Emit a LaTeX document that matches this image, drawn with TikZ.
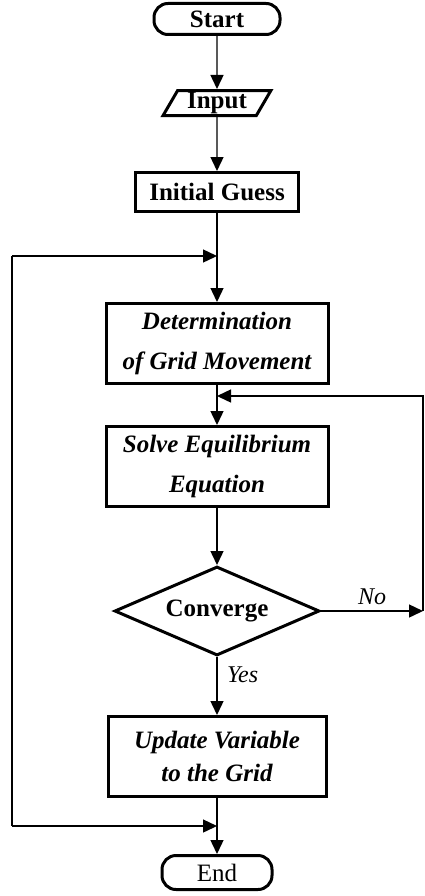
\documentclass[tikz,border=0pt]{standalone}
\usepackage{fontspec}
\setmainfont{Liberation Serif}
\usepackage{tikz}
\usetikzlibrary{arrows.meta,positioning,shapes.geometric,calc}

\begin{document}
\begin{tikzpicture}[
    term/.style={draw, line width=3pt, rounded corners=14pt, minimum width=126pt, minimum height=31pt, inner sep=0pt, font=\fontsize{25}{30}\selectfont\bfseries},
    inbox/.style={draw, line width=3pt, trapezium, trapezium left angle=63, trapezium right angle=117, trapezium stretches=true, minimum width=108pt, minimum height=25pt, inner sep=0pt, font=\fontsize{25}{30}\selectfont\bfseries},
    stepbox/.style={draw, line width=3pt, minimum width=222pt, minimum height=80pt, inner sep=0pt, align=center, font=\fontsize{25}{40}\selectfont\bfseries\itshape},
    decide/.style={draw, line width=3pt, diamond, aspect=2.4, minimum width=205pt, minimum height=89pt, inner sep=0pt, font=\fontsize{25}{30}\selectfont\bfseries},
    arrow/.style={-{Triangle[length=14pt,width=13pt]}, line width=1.4pt},
    line/.style={line width=1.4pt},
    lab/.style={font=\fontsize{24}{28}\selectfont\itshape},
    node distance=53pt
]
\useasboundingbox (0,0) rectangle (424pt,-896pt);

% Blocks
\node[term] (start) at (217pt,-19pt) {Start};
\node[inbox, below=of start] (input) {Input};
\node[draw, line width=3pt, minimum width=163pt, minimum height=39pt, inner sep=0pt, font=\fontsize{25}{30}\selectfont\bfseries, below=54pt of input] (init) {Initial Guess};
\node[stepbox, below=89pt of init] (det) {Determination\\of Grid Movement};
\node[stepbox, below=40pt of det] (solve) {Solve Equilibrium\\Equation};
\node[decide, below=57pt of solve] (conv) {Converge};
\node[stepbox, minimum width=218pt, below=58pt of conv, font=\fontsize{25}{33}\selectfont\bfseries\itshape] (update) {Update Variable\\to the Grid};
\node[term, minimum width=110pt, minimum height=34pt, font=\fontsize{25}{30}\selectfont, below=56pt of update] (end) {End};

% Junctions
\coordinate[below=43pt of init.south] (jt);
\coordinate[above=29pt of solve.north] (jr);
\coordinate[below=28pt of update.south] (jb);
\coordinate (lt) at ([xshift=-205pt]jt);
\coordinate (lb) at ([xshift=-205pt]jb);
\coordinate (nr) at ([xshift=102pt]conv.east);

% Arrows
\draw[arrow] (start) -- (input);
\draw[arrow] (input) -- (init);
\draw[arrow] (init) -- (det);
\draw[arrow] (det) -- (solve);
\draw[arrow] (solve) -- (conv);
\draw[arrow] (conv) -- node[pos=0.3, right=6pt, lab] {Yes} (update);
\draw[arrow] (update) -- (end);

% Loops
\draw[arrow] (conv) -- node[above=2pt, lab] {No} (nr);
\draw[arrow] (nr) |- (jr);
\draw[line] (lb) -- (lt);
\draw[arrow] (lt) -- (jt);
\draw[arrow] (lb) -- (jb);
\end{tikzpicture}
\end{document}
